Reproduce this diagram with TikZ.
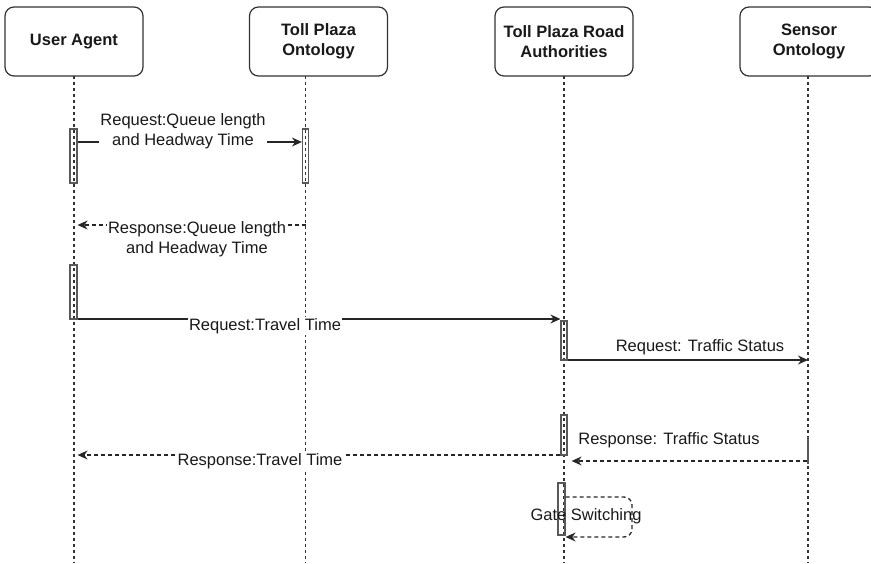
\documentclass[tikz,border=0pt]{standalone}
\usepackage{fontspec}
\setmainfont{Liberation Sans}
\usetikzlibrary{arrows.meta,calc}
\begin{document}
\begin{tikzpicture}[x=1pt,y=-1pt,
  actor/.style={draw=black!80, line width=1.2pt, rounded corners=9pt,
    minimum width=138pt, minimum height=69pt, align=center, inner sep=0pt,
    font=\fontsize{16.5}{20}\selectfont\bfseries, text=black!90},
  lifeline/.style={draw=black!80, line width=1.1pt, dash pattern=on 3pt off 3pt},
  actbar/.style={draw=black!65, line width=1.2pt, minimum width=6pt, inner sep=0pt},
  call/.style={draw=black!85, line width=1.3pt, -{Stealth[length=10pt,width=9pt]}},
  reply/.style={call, dash pattern=on 4pt off 3pt},
  msglabel/.style={font=\fontsize{16.5}{20}\selectfont, align=center,
    inner sep=1pt, text=black!90},
]
\useasboundingbox (0,0) rectangle (871,563);

% participants
\node[actor] (ua)   at (74,41.5)    {User Agent};
\node[actor] (tpo)  at (318.5,41.5) {Toll Plaza\\Ontology};
\node[actor] (tpra) at (564,41.5)   {Toll Plaza Road\\Authorities};
\node[actor] (so)   at (809,41.5)   {Sensor\\Ontology};

% lifeline ends
\coordinate (ua-top)   at (74,76);    \coordinate (ua-end)   at (74,563);
\coordinate (tpo-top)  at (305.5,76); \coordinate (tpo-end)  at (305.5,563);
\coordinate (tpra-top) at (564,76);   \coordinate (tpra-end) at (564,563);
\coordinate (so-top)   at (808,76);   \coordinate (so-end)   at (808,563);

\draw[lifeline] (ua-top) -- (ua-end);
\draw[lifeline] (tpo-top) -- (tpo-end);
\draw[lifeline] (tpra-top) -- (tpra-end);
\draw[lifeline] (so-top) -- (so-end);

% activation bars
\node[actbar, minimum width=7pt, minimum height=54pt] (a1) at (73.5,156) {};
\node[actbar, minimum height=54pt] (b1) at (305.5,156) {};
\node[actbar, minimum width=7pt, minimum height=54pt] (a2) at (73.5,292) {};
\node[actbar, minimum height=39pt] (c1) at (564,340.5) {};
\node[actbar, minimum height=40pt] (c2) at (564,435) {};
\node[actbar, minimum width=7pt, minimum height=52pt] (c3) at (561.5,509) {};
\node[actbar, minimum width=1.5pt, minimum height=25pt] (d1) at (808,450.5) {};

% message rows
\coordinate (r1) at (0,142);
\coordinate (r2) at (0,225);
\coordinate (r3) at (0,319);
\coordinate (r4) at (0,360);
\coordinate (r5) at (0,455);
\coordinate (r6) at (0,461);
\coordinate (r7) at (0,497);
\coordinate (r8) at (0,537);
\coordinate (loop) at (632,0);

% messages
\draw[call] (a1.east |- r1) -- (b1.west |- r1);
\node[msglabel, fill=white] (l1) at (183,131) {Request:Queue length\\and Headway Time};

\draw[reply] (tpo-top |- r2) -- (a1.east |- r2);
\node[msglabel, fill=white] (l2) at (197,239) {Response:Queue length\\and Headway Time};

\draw[call] (a2.east |- r3) -- (c1.west |- r3);
\node[msglabel, fill=white] (l3) at (265,326) {Request:Travel Time};

\draw[call] (c1.east |- r4) -- (so-top |- r4);
\node[msglabel] (l4) at (700,347) {Request: Traffic Status};

\draw[reply, shorten >=4pt] (d1.west |- r6) -- (c2.east |- r6);
\node[msglabel] (l5) at (669,440) {Response: Traffic Status};

\draw[reply] (c2.west |- r5) -- (a1.east |- r5);
\node[msglabel, fill=white] (l6) at (260,461) {Response:Travel Time};

\draw[reply, rounded corners=8pt] (c3.east |- r7) -- (loop |- r7) -- (loop |- r8) -- (c3.east |- r8);
\node[msglabel] (l7) at (586,516) {Gate Switching};

\end{tikzpicture}
\end{document}
